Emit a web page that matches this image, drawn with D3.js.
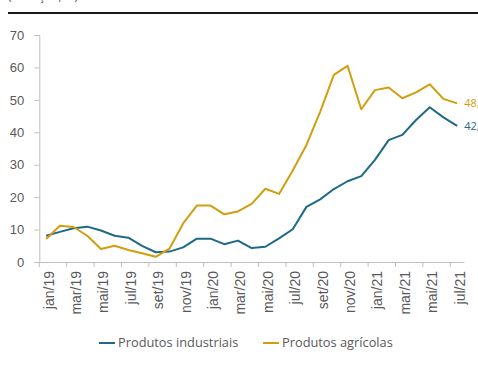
<!DOCTYPE html>
<html>
<head>
<meta charset="utf-8">
<script src="https://cdn.jsdelivr.net/npm/d3@7"></script>
<style>
  body { margin: 0; background: #fff; }
  svg { display: block; font-family: "Open Sans", sans-serif; }
</style>
</head>
<body>
<div id="chart"></div>
<script>
const months = [
  "jan/19","fev/19","mar/19","abr/19","mai/19","jun/19","jul/19","ago/19","set/19","out/19","nov/19","dez/19",
  "jan/20","fev/20","mar/20","abr/20","mai/20","jun/20","jul/20","ago/20","set/20","out/20","nov/20","dez/20",
  "jan/21","fev/21","mar/21","abr/21","mai/21","jun/21","jul/21"
];
const industriais = [8.1, 9.3, 10.4, 10.9, 9.7, 8.1, 7.5, 5.0, 3.0, 3.2, 4.5, 7.2,
  7.2, 5.5, 6.6, 4.3, 4.7, 7.3, 10.1, 17.0, 19.3, 22.5, 24.9, 26.5,
  31.5, 37.6, 39.2, 43.8, 47.7, 44.6, 42.0];
const agricolas = [7.1, 11.2, 10.8, 8.1, 4.0, 5.0, 3.7, 2.7, 1.6, 4.1, 11.9, 17.4,
  17.4, 14.7, 15.6, 17.9, 22.6, 21.0, 28.2, 36.1, 46.3, 57.7, 60.5, 47.1,
  53.0, 53.8, 50.5, 52.3, 54.8, 50.3, 48.9];
const yTicks = [0, 10, 20, 30, 40, 50, 60, 70];
const seriesNames = ["Produtos industriais", "Produtos agrícolas"];
const colors = ["#1d6a88", "#d19e0f"];

const W = 478, H = 365;
const svg = d3.select('#chart').append('svg').attr('width', W).attr('height', H);

// header (cut off at top) and rule
svg.append('text').attr('x', 8).attr('y', 0)
  .attr('font-size', 12).attr('fill', '#595959').text('(variação, %)');
svg.append('line').attr('x1', 8).attr('x2', W).attr('y1', 13).attr('y2', 13)
  .attr('stroke', '#1a1a1a').attr('stroke-width', 2.2);

const x = d3.scaleBand().domain(months).range([39.3, 464]).padding(0);
const y = d3.scaleLinear().domain([0, 70]).range([262, 35]);
const bw = x.bandwidth();
const cx = d => x(d) + bw / 2;

// y axis
const gy = svg.append('g').attr('transform', 'translate(39.3,0)')
  .call(d3.axisLeft(y).tickValues(yTicks).tickSize(5).tickPadding(10));
gy.select('.domain').attr('stroke', '#bfbfbf');
gy.selectAll('.tick line').attr('stroke', '#bfbfbf');
gy.selectAll('.tick text').attr('font-size', 13).attr('fill', '#595959');

// x axis
const tickMonths = months.filter((m, i) => i % 2 === 0);
const gx = svg.append('g').attr('transform', 'translate(0,262)')
  .call(d3.axisBottom(x).tickValues(tickMonths).tickSize(5).tickSizeOuter(0));
gx.select('.domain').attr('stroke', '#bfbfbf');
gx.selectAll('.tick line').attr('stroke', '#bfbfbf').attr('x1', -bw / 2).attr('x2', -bw / 2);
gx.selectAll('.tick text')
  .attr('font-size', 14).attr('fill', '#595959')
  .attr('transform', 'rotate(-90)')
  .attr('text-anchor', 'end')
  .attr('x', -9).attr('y', 2.5).attr('dy', '0.35em');

// lines
const line = d3.line().x((d, i) => cx(months[i])).y(d => y(d));
[industriais, agricolas].forEach((s, k) => {
  svg.append('path').datum(s).attr('d', line)
    .attr('fill', 'none').attr('stroke', colors[k]).attr('stroke-width', 2)
    .attr('stroke-linejoin', 'round');
  const last = s[s.length - 1];
  svg.append('text')
    .attr('x', cx(months[months.length - 1]) + 7).attr('y', y(last)).attr('dy', '0.35em')
    .attr('font-size', 11).attr('fill', colors[k])
    .text(last.toFixed(1).replace('.', ','));
});

// legend
const leg = [{x: 99, tx: 118}, {x: 263, tx: 282}];
seriesNames.forEach((n, k) => {
  svg.append('line').attr('x1', leg[k].x).attr('x2', leg[k].x + 16)
    .attr('y1', 343).attr('y2', 343).attr('stroke', colors[k]).attr('stroke-width', 2);
  svg.append('text').attr('x', leg[k].tx).attr('y', 343).attr('dy', '0.35em')
    .attr('font-size', 12.8).attr('fill', '#595959').text(n);
});
</script>
</body>
</html>
